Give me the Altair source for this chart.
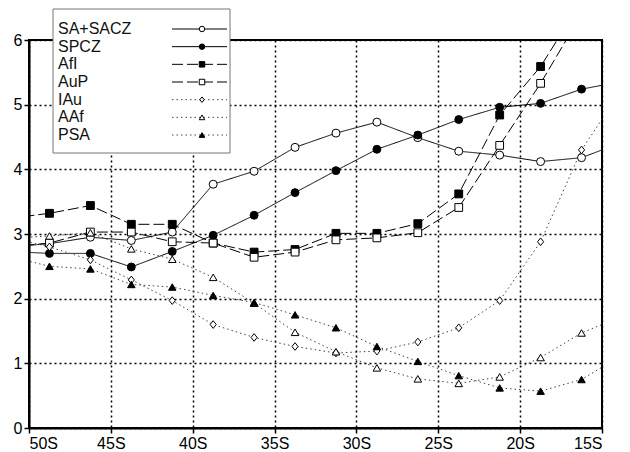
import altair as alt
import pandas as pd

# latitude grid (degrees, negative = south); outer points lie just beyond the plotted range
lat = [-51.25, -48.75, -46.25, -43.75, -41.25, -38.75, -36.25, -33.75,
       -31.25, -28.75, -26.25, -23.75, -21.25, -18.75, -16.25, -13.75]

names = ["SA+SACZ", "SPCZ", "AfI", "AuP", "IAu", "AAf", "PSA"]

sa_sacz = [2.80, 2.85, 2.95, 2.90, 3.03, 3.77, 3.97, 4.34, 4.56, 4.73, 4.49, 4.28, 4.22, 4.12, 4.18, 4.42]
spcz    = [2.73, 2.70, 2.70, 2.49, 2.73, 2.98, 3.29, 3.64, 3.98, 4.31, 4.53, 4.77, 4.96, 5.02, 5.24, 5.36]
afi     = [3.24, 3.32, 3.44, 3.15, 3.15, 2.86, 2.72, 2.76, 3.01, 3.01, 3.16, 3.62, 4.84, 5.59, 6.60, 7.60]
aup     = [2.80, 2.86, 3.03, 3.03, 2.88, 2.86, 2.64, 2.72, 2.91, 2.94, 3.02, 3.41, 4.37, 5.33, 6.40, 7.40]
iau     = [2.95, 2.80, 2.60, 2.29, 1.97, 1.60, 1.40, 1.26, 1.16, 1.19, 1.33, 1.55, 1.97, 2.88, 4.30, 5.25]
aaf     = [2.93, 2.97, 3.02, 2.77, 2.61, 2.33, 1.93, 1.48, 1.18, 0.93, 0.76, 0.69, 0.79, 1.09, 1.47, 1.73]
psa     = [2.66, 2.50, 2.46, 2.22, 2.18, 2.05, 1.94, 1.75, 1.55, 1.26, 1.03, 0.81, 0.62, 0.57, 0.75, 1.13]

series_values = [sa_sacz, spcz, afi, aup, iau, aaf, psa]

x_ticks = [-50, -45, -40, -35, -30, -25, -20, -15]
y_ticks = [0, 1, 2, 3, 4, 5, 6]

rows = []
for n, vals in zip(names, series_values):
    for la, v in zip(lat, vals):
        rows.append({"series": n, "lat": la, "value": v})
df = pd.DataFrame(rows)
legend_df = pd.DataFrame({"series": names, "row": list(range(len(names)))})

# styles
diamond = "M0,-1L0.8,0L0,1L-0.8,0Z"
dashes = [[1, 0], [1, 0], [11, 4], [11, 4], [1.5, 3], [1.5, 3], [1.5, 3]]
colors = ["black", "black", "black", "black", "#444", "#444", "#444"]
shapes = ["circle", "circle", "square", "square", diamond, "triangle-up", "triangle-up"]
fills = ["white", "black", "black", "white", "white", "white", "black"]
sizes = [64, 56, 64, 72, 144, 121, 121]
legend_sizes = [30, 30, 48, 48, 50, 50, 60]

FONT = "Liberation Sans"

color_enc = alt.Color("series:N", scale=alt.Scale(domain=names, range=colors), legend=None)
dash_enc = alt.StrokeDash("series:N", scale=alt.Scale(domain=names, range=dashes), legend=None)
shape_enc = alt.Shape("series:N", scale=alt.Scale(domain=names, range=shapes), legend=None)
fill_enc = alt.Fill("series:N", scale=alt.Scale(domain=names, range=fills), legend=None)

x_scale = alt.Scale(domain=[-50, -15], nice=False, zero=False)
y_scale = alt.Scale(domain=[0, 6], nice=False)

x_axis = alt.Axis(values=x_ticks, labelExpr="abs(datum.value) + 'S'", title=None)
x_enc = alt.X("lat:Q", scale=x_scale, axis=x_axis)

lines = alt.Chart(df).mark_line(clip=True, strokeWidth=1).encode(
    x=x_enc,
    y=alt.Y("value:Q", scale=y_scale, axis=alt.Axis(values=y_ticks, title=None, format="d")),
    color=color_enc,
    strokeDash=dash_enc,
    order=alt.Order("lat:Q"),
)

points = alt.Chart(df).transform_filter(
    "datum.lat > -50 && datum.lat < -15 && datum.value <= 6"
).mark_point(filled=True, stroke="black", strokeWidth=1, opacity=1, strokeOpacity=1, fillOpacity=1).encode(
    x=x_enc,
    y=alt.Y("value:Q", scale=y_scale, axis=None),
    shape=shape_enc,
    fill=fill_enc,
    size=alt.Size("series:N", scale=alt.Scale(domain=names, range=sizes), legend=None),
)

legend_y = alt.Y("row:Q", scale=alt.Scale(domain=[0, 6], range=[-11, 95]), axis=None)

legend_box = alt.Chart(pd.DataFrame({"k": [0]})).mark_rect(
    fill="white", stroke="#777", strokeWidth=1
).encode(
    x=alt.value(24), x2=alt.value(201), y=alt.value(-31), y2=alt.value(113)
)

legend_rules = alt.Chart(legend_df).mark_rule(strokeWidth=1).encode(
    x=alt.value(143), x2=alt.value(198),
    y=legend_y,
    color=color_enc,
    strokeDash=dash_enc,
)

legend_points = alt.Chart(legend_df).mark_point(
    filled=True, stroke="black", strokeWidth=1, opacity=1
).encode(
    x=alt.value(173),
    y=legend_y,
    shape=shape_enc,
    fill=fill_enc,
    size=alt.Size("series:N", scale=alt.Scale(domain=names, range=legend_sizes), legend=None),
)

legend_text = alt.Chart(legend_df).mark_text(
    align="left", baseline="middle", fontSize=16, font=FONT, color="#111"
).encode(
    x=alt.value(29),
    y=legend_y,
    text="series:N",
)

chart = alt.layer(
    lines, points, legend_box, legend_rules, legend_points, legend_text
).resolve_scale(
    y="independent", size="independent"
).properties(
    width=573, height=388,
    autosize=alt.AutoSizeParams(type="none"),
    padding={"left": 21, "top": 32, "right": 20, "bottom": 24},
    background="white",
).configure_view(
    stroke="black", strokeWidth=2
).configure_axis(
    grid=True, gridColor="black", gridDash=[2, 3], gridWidth=1.5, gridOpacity=1,
    domainColor="black", domainWidth=2,
    tickColor="black", tickSize=5, tickWidth=1.5,
    labelFont=FONT, labelFontSize=16, labelColor="black", labelPadding=2,
)

chart.save("out.html", embed_options={"renderer": "svg", "actions": False})
